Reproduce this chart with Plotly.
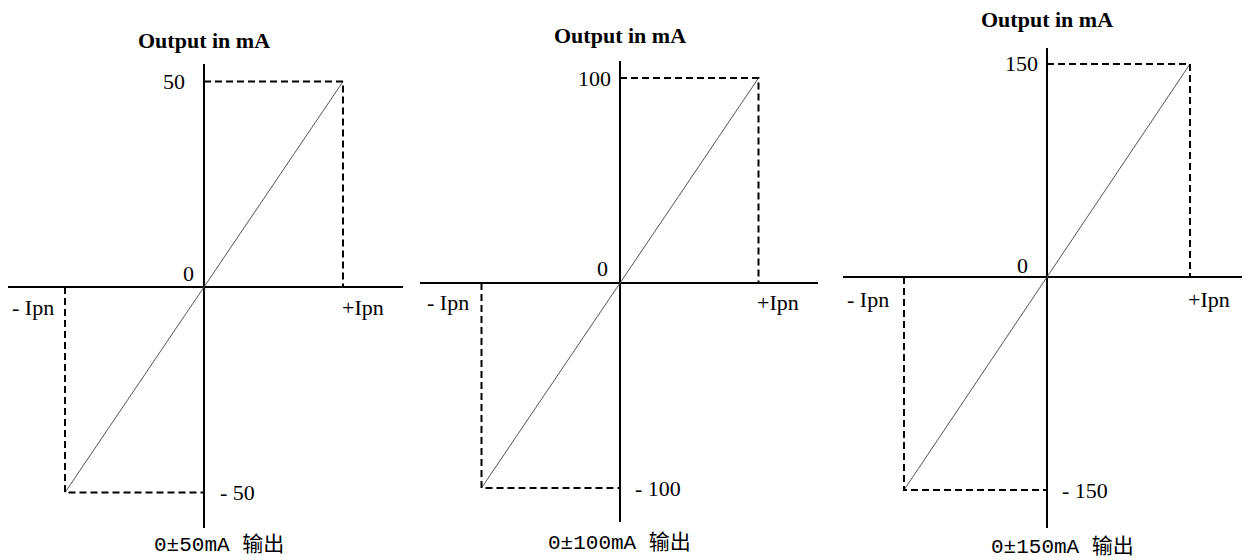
import plotly.graph_objects as go

# data: three output ranges, input in units of Ipn
full_scale = [50, 100, 150]
ipn_x = [-1, 1]
ipn_labels = ["- Ipn", "+Ipn"]
top_labels = ["50", "100", "150"]
bottom_labels = ["- 50", "- 100", "- 150"]
captions = ["0\u00b150mA 输出", "0\u00b1100mA 输出", "0\u00b1150mA 输出"]
title = "Output in mA"

# page has an 8px body margin, so the figure is drawn 8px in from the corner
OFF = 8
W, H = 1250 - OFF, 560 - OFF

# page-pixel geometry of each panel: axis extents, origin, px per Ipn, px per full scale
panels = [
    dict(x0=8, x1=403, ytop=64, ybot=528, ox=204, oy=287, ux=139, uy=205.5,
         top_dx=-17, zero_dx=-8, zero_dy=14, bot_dx=14, nl_dx=-9, pl_dx=-3, ipn_dy=-20,
         t_dy=24, cap_dx=15, cap_dy=-17),
    dict(x0=420, x1=818, ytop=61, ybot=522, ox=620, oy=283, ux=138.5, uy=205,
         top_dx=-7, zero_dx=-10, zero_dy=15, bot_dx=13, nl_dx=-10, pl_dx=-4, ipn_dy=-19,
         t_dy=25, cap_dx=-1, cap_dy=-21),
    dict(x0=843, x1=1250, ytop=48, ybot=528, ox=1047, oy=277, ux=143, uy=213,
         top_dx=-7, zero_dx=-17, zero_dy=12, bot_dx=13, nl_dx=-13, pl_dx=-4, ipn_dy=-22,
         t_dy=28, cap_dx=15, cap_dy=-19),
]

serif = "Liberation Serif, Times New Roman, serif"
cjk = "Liberation Mono, Noto Sans CJK SC, monospace"

fig = go.Figure()
annotations = []
layout_axes = {}

for i, (fs, p) in enumerate(zip(full_scale, panels)):
    n = "" if i == 0 else str(i + 1)
    xa, ya = "x" + n, "y" + n

    # diagonal transfer line
    fig.add_trace(go.Scatter(x=ipn_x, y=[-fs, fs], mode="lines", xaxis=xa, yaxis=ya,
                             line=dict(color="#555555", width=1), showlegend=False,
                             hoverinfo="skip"))
    # dashed guides
    fig.add_trace(go.Scatter(x=[0, ipn_x[1], ipn_x[1]], y=[fs, fs, 0], mode="lines",
                             xaxis=xa, yaxis=ya, showlegend=False, hoverinfo="skip",
                             line=dict(color="black", width=2, dash="7px,4px")))
    fig.add_trace(go.Scatter(x=[ipn_x[0], ipn_x[0], 0], y=[0, -fs, -fs], mode="lines",
                             xaxis=xa, yaxis=ya, showlegend=False, hoverinfo="skip",
                             line=dict(color="black", width=2, dash="7px,4px")))

    xr = [(p["x0"] - p["ox"]) / p["ux"], (p["x1"] - p["ox"]) / p["ux"]]
    yr = [-(p["ybot"] - p["oy"]) / p["uy"] * fs, (p["oy"] - p["ytop"]) / p["uy"] * fs]
    common = dict(showgrid=False, showticklabels=False, ticks="", showline=False,
                  zeroline=True, zerolinecolor="black", zerolinewidth=2.2, fixedrange=True)
    layout_axes["xaxis" + n] = dict(common, range=xr,
                                    domain=[max(0, (p["x0"] - OFF) / W),
                                            min(1, (p["x1"] - OFF) / W)],
                                    anchor=ya)
    layout_axes["yaxis" + n] = dict(common, range=yr,
                                    domain=[1 - (p["ybot"] - OFF) / H, 1 - (p["ytop"] - OFF) / H],
                                    anchor=xa)

    lab = dict(xref=xa, yref=ya, showarrow=False, font=dict(family=serif, size=22, color="black"))
    annotations += [
        dict(lab, x=0, y=fs, text=top_labels[i], xanchor="right", xshift=p["top_dx"]),
        dict(lab, x=0, y=0, text="0", xanchor="right", xshift=p["zero_dx"], yshift=p["zero_dy"]),
        dict(lab, x=0, y=-fs, text=bottom_labels[i], xanchor="left", xshift=p["bot_dx"]),
        dict(lab, x=ipn_x[0], y=0, text=ipn_labels[0], xanchor="right", xshift=p["nl_dx"],
             yshift=p["ipn_dy"]),
        dict(lab, x=ipn_x[1], y=0, text=ipn_labels[1], xanchor="left", xshift=p["pl_dx"],
             yshift=p["ipn_dy"]),
        dict(xref=xa, yref=ya + " domain", x=0, y=1, text="<b>" + title + "</b>",
             showarrow=False, yanchor="middle", yshift=p["t_dy"],
             font=dict(family=serif, size=22, color="black")),
        dict(xref=xa, yref=ya + " domain", x=0, y=0, text=captions[i], showarrow=False,
             yanchor="middle", xshift=p["cap_dx"], yshift=p["cap_dy"],
             font=dict(family=cjk, size=21, color="black")),
    ]

fig.update_layout(
    width=W, height=H,
    margin=dict(l=0, r=0, t=0, b=0),
    paper_bgcolor="white", plot_bgcolor="white",
    annotations=annotations,
    **layout_axes,
)

fig.write_html("out.html", config={"displayModeBar": False})
